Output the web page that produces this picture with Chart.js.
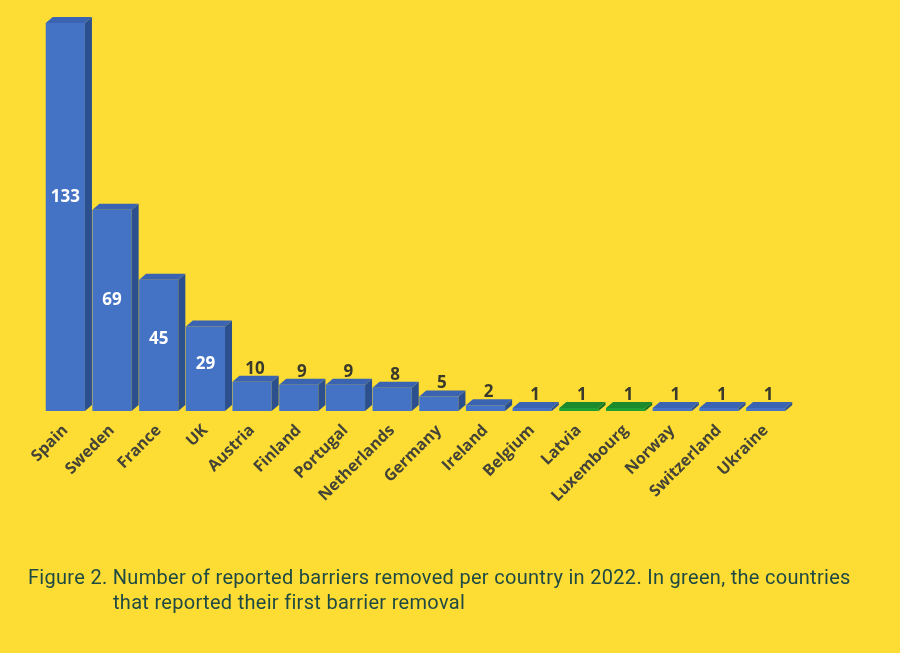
<!DOCTYPE html>
<html>
<head>
<meta charset="utf-8">
<script src="https://cdn.jsdelivr.net/npm/chart.js@4.4.0/dist/chart.umd.min.js"></script>
<style>
  html, body { margin: 0; padding: 0; background: #FDDC33; }
  #wrap { position: relative; width: 900px; height: 653px; overflow: hidden; }
  canvas { position: absolute; left: 0; top: 0; }
  #caption { position: absolute; left: 28px; top: 565px; width: 872px;
    font-family: Roboto, "Noto Sans", sans-serif; font-size: 20px; line-height: 25px;
    letter-spacing: 0.3px; color: #1F4A44; white-space: nowrap; }
  #caption .l2 { padding-left: 85px; }
</style>
</head>
<body>
<div id="wrap">
  <canvas id="c" width="900" height="653"></canvas>
  <div id="caption">Figure 2. Number of reported barriers removed per country in 2022. In green, the countries<div class="l2">that reported their first barrier removal</div></div>
</div>
<script>
const categories = ["Spain","Sweden","France","UK","Austria","Finland","Portugal","Netherlands","Germany","Ireland","Belgium","Latvia","Luxembourg","Norway","Switzerland","Ukraine"];
const barriersRemoved = [133,69,45,29,10,9,9,8,5,2,1,1,1,1,1,1];
const firstRemoval = [false,false,false,false,false,false,false,false,false,false,false,true,true,false,false,false];

const BLUE = {front:"#4472C4", side:"#2C4F8E", top:"#3A64B2"};
const GREEN = {front:"#1E9E33", side:"#137025", top:"#1A8A2C"};
const DX = 7, DY = 6;

const threeD = {
  id: "threeD",
  afterDatasetsDraw(chart) {
    const ctx = chart.ctx;
    const meta = chart.getDatasetMeta(0);
    meta.data.forEach((bar, i) => {
      const pal = firstRemoval[i] ? GREEN : BLUE;
      const left = bar.x - bar.width / 2, right = bar.x + bar.width / 2;
      const top = bar.y, base = bar.base;
      ctx.save();
      ctx.fillStyle = pal.side;
      ctx.beginPath();
      ctx.moveTo(right, top); ctx.lineTo(right + DX, top - DY);
      ctx.lineTo(right + DX, base - DY); ctx.lineTo(right, base);
      ctx.closePath(); ctx.fill();
      ctx.fillStyle = pal.top;
      ctx.beginPath();
      ctx.moveTo(left, top); ctx.lineTo(left + DX, top - DY);
      ctx.lineTo(right + DX, top - DY); ctx.lineTo(right, top);
      ctx.closePath(); ctx.fill();
      const v = barriersRemoved[i];
      ctx.font = "bold 17px 'Open Sans', sans-serif";
      ctx.textAlign = "center";
      if (v >= 20) {
        ctx.fillStyle = "#FFFFFF";
        ctx.textBaseline = "middle";
        ctx.fillText(String(v), bar.x, top + (base - top) * 0.45);
      } else {
        ctx.fillStyle = "#3A3A2C";
        ctx.textBaseline = "alphabetic";
        ctx.fillText(String(v), bar.x + 3, top - DY - 2);
      }
      ctx.restore();
    });
  }
};

new Chart(document.getElementById("c"), {
  type: "bar",
  data: {
    labels: categories,
    datasets: [{
      data: barriersRemoved,
      backgroundColor: firstRemoval.map(f => f ? GREEN.front : BLUE.front),
      borderWidth: 0,
      barPercentage: 0.84,
      categoryPercentage: 1.0
    }]
  },
  options: {
    responsive: false,
    animation: false,
    devicePixelRatio: 1,
    layout: { padding: { left: 42, right: 111, top: 23, bottom: 122 } },
    plugins: { legend: { display: false }, tooltip: { enabled: false } },
    scales: {
      y: { display: false, min: 0, max: 133 },
      x: {
        grid: { display: false, drawTicks: false },
        border: { display: false },
        afterFit(scale) { scale.height = 120; },
        ticks: {
          minRotation: 45, maxRotation: 45, padding: 10,
          color: "#434338",
          font: { family: "'Open Sans', sans-serif", weight: "bold", size: 16 }
        }
      }
    }
  },
  plugins: [threeD]
});
</script>
</body>
</html>
